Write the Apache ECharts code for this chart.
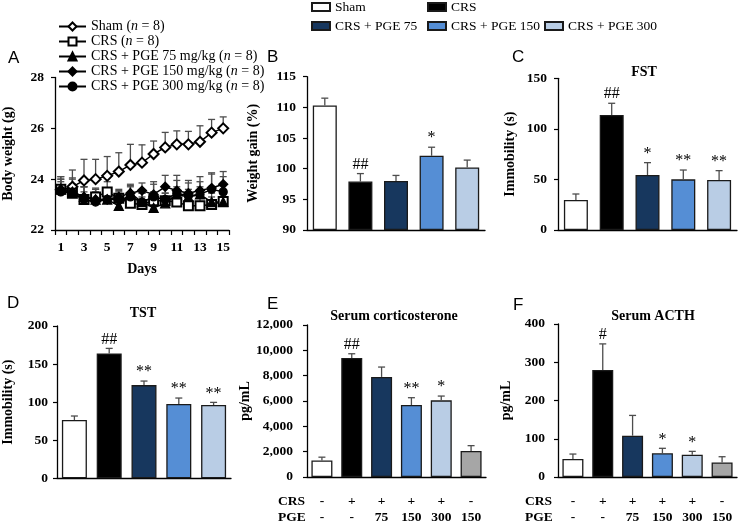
<!DOCTYPE html>
<html><head><meta charset="utf-8">
<script src="https://cdn.jsdelivr.net/npm/echarts@6/dist/echarts.min.js"></script>
<style>html,body{margin:0;padding:0;background:#fff}#c{width:738px;height:526px}</style>
</head><body><div id="c"></div>
<script>
const SERIF = '"Liberation Serif","Times New Roman",serif';
const SANS = '"Liberation Sans",Arial,sans-serif';

// ---------- Panel A: body weight ----------
const days = ['1','2','3','4','5','6','7','8','9','10','11','12','13','14','15'];
const aNames = ['Sham (n = 8)','CRS (n = 8)','CRS + PGE 75 mg/kg (n = 8)','CRS + PGE 150 mg/kg (n = 8)','CRS + PGE 300 mg/kg (n = 8)'];
const shamWeight   = [23.58,23.70,23.95,24.00,24.13,24.30,24.56,24.65,24.99,25.25,25.37,25.37,25.47,25.83,26.00];
const shamWeightErr= [0.52,0.66,0.83,0.78,0.76,0.74,0.81,0.70,0.51,0.59,0.53,0.51,0.63,0.52,0.45];
const crsWeight    = [23.60,23.45,23.20,23.30,23.50,23.25,23.05,23.00,23.15,23.15,23.10,22.95,22.95,23.00,23.12];
const crsWeightErr = [0.30,0.35,0.30,0.35,0.40,0.30,0.30,0.30,0.35,0.30,0.30,0.30,0.35,0.30,0.30];
const pge75Weight  = [23.60,23.50,23.30,23.20,23.20,22.95,23.45,23.10,22.87,23.05,23.40,23.30,23.40,23.10,23.10];
const pge75WeightErr=[0.40,0.30,0.40,0.30,0.35,0.30,0.30,0.35,0.40,0.40,0.30,0.30,0.30,0.35,0.35];
const pge150Weight = [23.60,23.50,23.30,23.20,23.20,23.30,23.45,23.55,23.40,23.70,23.55,23.45,23.55,23.65,23.80];
const pge150WeightErr=[0.50,0.50,0.40,0.40,0.35,0.30,0.35,0.30,0.50,0.45,0.60,0.50,0.55,0.60,0.50];
const pge300Weight = [23.50,23.45,23.20,23.10,23.20,23.20,23.30,23.10,23.30,23.20,23.45,23.35,23.40,23.60,23.50];
const pge300WeightErr=[0.50,0.60,0.50,0.50,0.35,0.30,0.40,0.35,0.50,0.50,0.50,0.50,0.50,0.60,0.60];
const aMeans = [shamWeight, crsWeight, pge75Weight, pge150Weight, pge300Weight];
const aErrs  = [shamWeightErr, crsWeightErr, pge75WeightErr, pge150WeightErr, pge300WeightErr];

// ---------- Bar panels ----------
const groups5 = ['Sham','CRS','CRS + PGE 75','CRS + PGE 150','CRS + PGE 300'];
const groups6 = ['Sham','CRS','CRS + PGE 75','CRS + PGE 150','CRS + PGE 300','PGE 150'];
const weightGain    = [110.3, 97.9, 98.0, 102.1, 100.2];
const weightGainErr = [1.2, 1.3, 0.9, 1.4, 1.2];
const weightGainSig = ['', '##', '', '*', ''];
const fstImmobility = [29.7, 113.7, 54.4, 50.1, 49.5];
const fstErr        = [5.9, 11.6, 12.2, 9.2, 9.2];
const fstSig        = ['', '##', '*', '**', '**'];
const tstImmobility = [76.5, 164.0, 122.4, 97.5, 96.2];
const tstErr        = [5.3, 6.6, 5.3, 7.9, 3.5];
const tstSig        = ['', '##', '**', '**', '**'];
const cortMean      = [1300, 9390, 7900, 5680, 6050, 2060];
const cortErr       = [265, 340, 780, 580, 340, 415];
const cortSig       = ['', '##', '', '**', '*', ''];
const acthMean      = [47, 280, 108, 62, 58, 38];
const acthErr       = [13, 68, 53, 13, 9, 15];
const acthSig       = ['', '#', '', '*', '*', ''];
const crsRow = ['-','+','+','+','+','-'];
const pgeRow = ['-','-','75','150','300','150'];

const barColors = ['#ffffff','#000000','#17375e','#558ed5','#b9cde5','#a6a6a6'];
const BORDER = '#1a1a1a';
const ERRC = '#4d4d4d';

function tickLabel(extra){ return Object.assign({fontFamily:SERIF, fontWeight:'bold', fontSize:13.5, color:'#000', margin:11}, extra||{}); }
const axLine = {show:true, onZero:false, lineStyle:{color:'#000', width:1.3}};
function yAx(gi, min, max, interval, name, nameGap, fmt, margin){
  const lab = {}; if (fmt) lab.formatter = fmt; if (margin) lab.margin = margin;
  return {type:'value', gridIndex:gi, min, max, interval, startValue:min,
    axisLine:axLine, axisTick:{show:true, length:4, lineStyle:{color:'#000', width:1.2}},
    axisLabel:tickLabel(lab), splitLine:{show:false},
    name, nameLocation:'middle', nameGap,
    nameTextStyle:{fontFamily:SERIF, fontWeight:'bold', fontSize:14, color:'#000'}};
}
function xCat(gi, data, labels){
  const ax = {type:'category', gridIndex:gi, data, axisLine:axLine, axisTick:{show:false}, splitLine:{show:false}};
  if (labels) ax.axisLabel = tickLabel({margin:17, lineHeight:16, interval:0, formatter:(v,i)=>crsRow[i]+'\n'+pgeRow[i]});
  else ax.axisLabel = {show:false};
  return ax;
}
function errSeries(gi, means, errs, sig, capHalf, z){
  return {type:'custom', xAxisIndex:gi, yAxisIndex:gi, z:z, silent:true,
    data: means.map((m,i)=>[i, m, m+errs[i]]),
    encode:{x:0, y:[1,2]},
    renderItem:(params, api)=>{
      const i = api.value(0);
      const p0 = api.coord([i, api.value(1)]), p1 = api.coord([i, api.value(2)]);
      const ch = [
        {type:'line', shape:{x1:p0[0],y1:p0[1],x2:p1[0],y2:p1[1]}, style:{stroke:ERRC, lineWidth:1.3}},
        {type:'line', shape:{x1:p1[0]-capHalf,y1:p1[1],x2:p1[0]+capHalf,y2:p1[1]}, style:{stroke:ERRC, lineWidth:1.3}}
      ];
      const s = sig ? sig[params.dataIndex] : '';
      if (s) ch.push({type:'text', style:{x:p1[0], y:p1[1]-1, text:s, align:'center', verticalAlign:'bottom', fontFamily:SERIF, fontSize:16, fill:'#000'}});
      return {type:'group', children:ch};
    }};
}
function barSeries(gi, vals, w){
  return {type:'bar', xAxisIndex:gi, yAxisIndex:gi, barWidth:w, z:2,
    data: vals.map((v,i)=>({value:v, itemStyle:{color:barColors[i]}})),
    itemStyle:{borderColor:BORDER, borderWidth:1.3}};
}

const aSymbols = ['emptyDiamond','emptyRect','triangle','diamond','circle'];
const aSizes = [10, 9, 9, 9, 8];

const series = [];
aNames.forEach((n,k)=>{
  series.push({type:'line', name:n, xAxisIndex:0, yAxisIndex:0, data:aMeans[k],
    symbol:aSymbols[k], symbolSize:aSizes[k], showAllSymbol:true, z:3,
    lineStyle:{color:'#000', width:1.5},
    itemStyle:{color:'#000', borderColor:'#000', borderWidth:1.3}});
});
aNames.forEach((n,k)=>series.push(errSeries(0, aMeans[k], aErrs[k], null, 3.5, 1)));

groups5.forEach((g,k)=>{
  series.push({type:'bar', name:g, xAxisIndex:1, yAxisIndex:1, barWidth:24, barGap:'-100%', z:2,
    data: weightGain.map((v,j)=> j===k ? v : null),
    itemStyle:{color:barColors[k], borderColor:BORDER, borderWidth:1.3}});
});
series.push(errSeries(1, weightGain, weightGainErr, weightGainSig, 3.5, 4));
series.push(barSeries(2, fstImmobility, 24));
series.push(errSeries(2, fstImmobility, fstErr, fstSig, 3.5, 4));
series.push(barSeries(3, tstImmobility, 25));
series.push(errSeries(3, tstImmobility, tstErr, tstSig, 3.5, 4));
series.push(barSeries(4, cortMean, 21));
series.push(errSeries(4, cortMean, cortErr, cortSig, 3.5, 4));
series.push(barSeries(5, acthMean, 21));
series.push(errSeries(5, acthMean, acthErr, acthSig, 3.5, 4));

const legTxt = {fontFamily:SERIF, fontSize:14, color:'#000'};
const legTxtB = {fontFamily:SERIF, fontSize:13.5, color:'#000'};
const bLegPos = [[311,0],[427,0],[311,19],[427,19],[544,19]];
const legends = [{
  orient:'vertical', left:58, top:19, padding:0, itemGap:0, itemWidth:27, itemHeight:10,
  selectedMode:false, data:aNames,
  formatter: n => n.replace('(n =', '({i|n} ='),
  textStyle:Object.assign({lineHeight:15, rich:{i:{fontStyle:'italic', fontFamily:SERIF, fontSize:14, color:'#000'}}}, legTxt)
}];
groups5.forEach((g,k)=>legends.push({left:bLegPos[k][0], top:bLegPos[k][1], padding:0, icon:'rect',
  itemWidth:18, itemHeight:8, selectedMode:false, data:[g], textStyle:legTxtB}));

const txt = (t,x,y,font,align)=>({type:'text', x, y, style:{text:t, font, fill:'#000', align:align||'left', verticalAlign:'middle'}});
const LET = `17px ${SANS}`, TIT = `bold 14px ${SERIF}`, ROW = `bold 13.5px ${SERIF}`;

const option = {
  animation:false,
  backgroundColor:'#fff',
  grid:[
    {left:50, top:77.5, width:179, height:152.5},
    {left:307, top:76.7, width:178, height:153.3},
    {left:558, top:78.3, width:179, height:151.7},
    {left:51, top:326, width:180, height:152.3},
    {left:307, top:325, width:179, height:153.3},
    {left:558, top:324, width:179, height:153.3}
  ],
  xAxis:[
    {type:'category', gridIndex:0, data:days, axisLine:axLine,
     axisTick:{show:true, interval:0, length:5, lineStyle:{color:'#000', width:1.2}},
     axisLabel:tickLabel({interval:1, margin:11}), splitLine:{show:false},
     name:'Days', nameLocation:'middle', nameGap:32,
     nameTextStyle:{fontFamily:SERIF, fontWeight:'bold', fontSize:14, color:'#000'}},
    xCat(1, groups5, false), xCat(2, groups5, false), xCat(3, groups5, false),
    xCat(4, groups6, true), xCat(5, groups6, true)
  ],
  yAxis:[
    yAx(0, 22, 28, 2, 'Body weight (g)', 40),
    yAx(1, 90, 115, 5, 'Weight gain (%)', 47),
    yAx(2, 0, 150, 50, 'Immobility (s)', 41),
    yAx(3, 0, 200, 50, 'Immobility (s)', 42, null, 9),
    yAx(4, 0, 12000, 2000, 'pg/mL', 45, v=>v.toLocaleString('en-US'), 14),
    yAx(5, 0, 400, 100, 'pg/mL', 45, null, 13)
  ],
  legend: legends,
  series,
  graphic:[
    txt('A', 8, 58, LET), txt('B', 267, 57, LET), txt('C', 512, 57, LET),
    txt('D', 7, 303, LET), txt('E', 267, 304, LET), txt('F', 513, 305, LET),
    txt('FST', 644, 72, TIT, 'center'), txt('TST', 143, 313, TIT, 'center'),
    txt('Serum corticosterone', 394, 316, TIT, 'center'), txt('Serum ACTH', 653, 316, TIT, 'center'),
    txt('CRS', 278, 502, ROW), txt('PGE', 278, 518, ROW),
    txt('CRS', 525, 502, ROW), txt('PGE', 525, 518, ROW)
  ]
};
const chart = echarts.init(document.getElementById('c'), null, {renderer:'canvas'});
chart.setOption(option);
</script>
</body></html>
